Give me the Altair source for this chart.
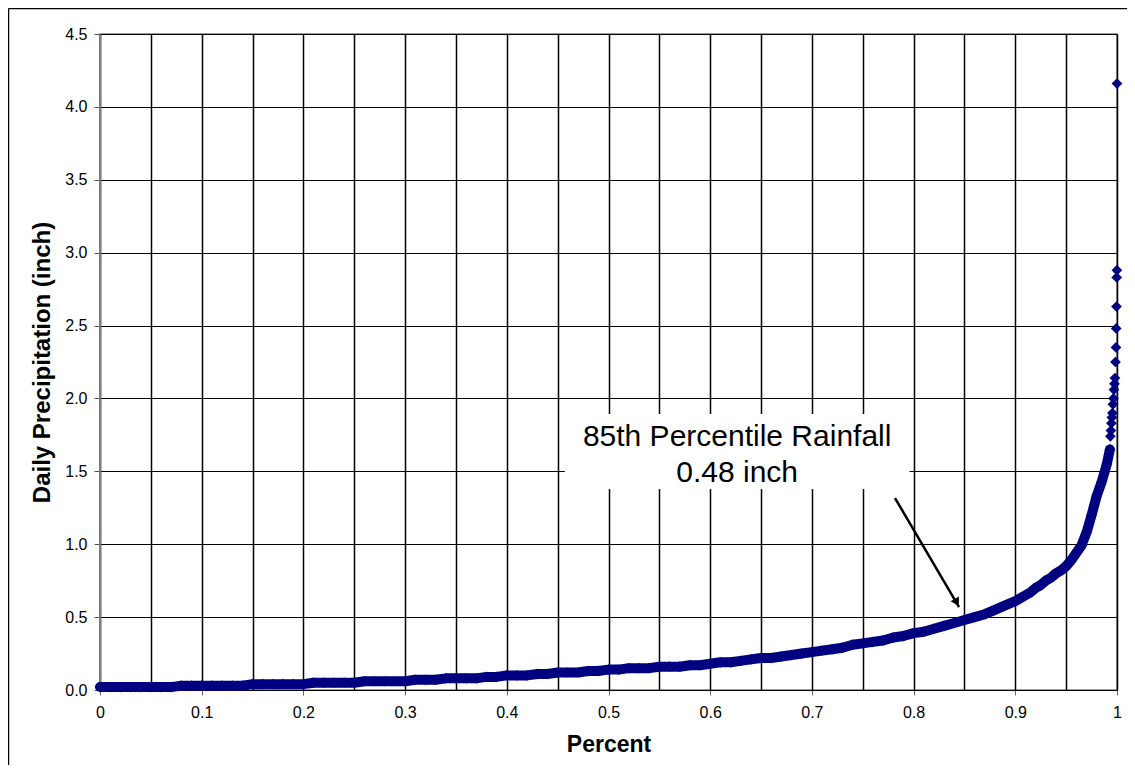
import altair as alt
import pandas as pd

# ---- data ----
pct = [0.00, 0.01, 0.02, 0.03, 0.04, 0.05, 0.06, 0.07, 0.08, 0.09,
       0.10, 0.11, 0.12, 0.13, 0.14, 0.15, 0.16, 0.17, 0.18, 0.19,
       0.20, 0.21, 0.22, 0.23, 0.24, 0.25, 0.26, 0.27, 0.28, 0.29,
       0.30, 0.31, 0.32, 0.33, 0.34, 0.35, 0.36, 0.37, 0.38, 0.39,
       0.40, 0.41, 0.42, 0.43, 0.44, 0.45, 0.46, 0.47, 0.48, 0.49,
       0.50, 0.51, 0.52, 0.53, 0.54, 0.55, 0.56, 0.57, 0.58, 0.59,
       0.60, 0.61, 0.62, 0.63, 0.64, 0.65, 0.66, 0.67, 0.68, 0.69,
       0.70, 0.71, 0.72, 0.73, 0.74, 0.75, 0.76, 0.77, 0.78, 0.79,
       0.80, 0.81, 0.82, 0.83, 0.84, 0.85, 0.86, 0.87, 0.88, 0.89,
       0.90, 0.905, 0.91, 0.915, 0.92, 0.925, 0.93, 0.935, 0.94, 0.945,
       0.95, 0.955, 0.96, 0.965, 0.97, 0.975, 0.98, 0.985, 0.99, 0.993]
precip = [0.02, 0.02, 0.02, 0.02, 0.02, 0.02, 0.02, 0.02, 0.03, 0.03,
          0.03, 0.03, 0.03, 0.03, 0.03, 0.04, 0.04, 0.04, 0.04, 0.04,
          0.04, 0.05, 0.05, 0.05, 0.05, 0.05, 0.06, 0.06, 0.06, 0.06,
          0.06, 0.07, 0.07, 0.07, 0.08, 0.08, 0.08, 0.08, 0.09, 0.09,
          0.10, 0.10, 0.10, 0.11, 0.11, 0.12, 0.12, 0.12, 0.13, 0.13,
          0.14, 0.14, 0.15, 0.15, 0.15, 0.16, 0.16, 0.16, 0.17, 0.17,
          0.18, 0.19, 0.19, 0.20, 0.21, 0.22, 0.22, 0.23, 0.24, 0.25,
          0.26, 0.27, 0.28, 0.29, 0.31, 0.32, 0.33, 0.34, 0.36, 0.37,
          0.39, 0.40, 0.42, 0.44, 0.46, 0.48, 0.50, 0.52, 0.55, 0.58,
          0.61, 0.63, 0.65, 0.67, 0.70, 0.72, 0.75, 0.77, 0.80, 0.82,
          0.85, 0.89, 0.94, 0.99, 1.08, 1.20, 1.33, 1.43, 1.55, 1.65]

tail_pct = [0.9935, 0.994, 0.9945, 0.995, 0.9955, 0.996, 0.9965, 0.997, 0.9975,
            0.998, 0.9985, 0.999, 0.9992, 0.9995, 0.9997, 0.9999, 1.0]
tail_precip = [1.74, 1.78, 1.83, 1.87, 1.90, 1.96, 2.00, 2.06, 2.10,
               2.14, 2.25, 2.35, 2.48, 2.63, 2.83, 2.88, 4.16]

x_grid_values = [0, 0.05, 0.1, 0.15, 0.2, 0.25, 0.3, 0.35, 0.4, 0.45, 0.5,
                 0.55, 0.6, 0.65, 0.7, 0.75, 0.8, 0.85, 0.9, 0.95, 1.0]
y_tick_values = [0, 0.5, 1.0, 1.5, 2.0, 2.5, 3.0, 3.5, 4.0, 4.5]

note_lines = ["85th Percentile Rainfall", "0.48 inch"]
note_x = [0.6265, 0.6265]
note_y = [1.674, 1.427]
box = {"x": 0.457, "x2": 0.796, "y": 1.379, "y2": 1.893}
arrow = {"x": 0.7817, "y": 1.317, "x2": 0.8447, "y2": 0.569}
arrow_head = {"x": 0.8425, "y": 0.600}

FONT = "Liberation Sans"
NAVY = "#000080"

curve_df = pd.DataFrame({"pct": pct, "precip": precip})
tail_df = pd.DataFrame({"pct": tail_pct, "precip": tail_precip})
note_df = pd.DataFrame({"pct": note_x, "precip": note_y, "label": note_lines})
box_df = pd.DataFrame([box])
arrow_df = pd.DataFrame([arrow])
head_df = pd.DataFrame([arrow_head])

x_scale = alt.Scale(domain=[0, 1], nice=False, zero=False)
y_scale = alt.Scale(domain=[0, 4.5], nice=False)

x_axis = alt.Axis(
    values=x_grid_values,
    labelExpr="round(datum.value*100) % 10 == 0 ? format(datum.value, '~g') : ''",
    labelFlush=False, labelOverlap=False,
    tickOpacity={"condition": {"test": "round(datum.value*100) % 10 != 0", "value": 0}, "value": 1},
    grid=True, gridColor="black", gridWidth=1.5,
    domainColor="black", domainWidth=1, tickColor="#666666", tickSize=5,
    labelFont=FONT, labelFontSize=16, labelColor="black", labelPadding=9,
    title="Percent", titleFont=FONT, titleFontSize=23, titleFontWeight="bold",
    titleColor="black", titlePadding=13,
)
y_axis = alt.Axis(
    values=y_tick_values, format=".1f",
    grid=True, gridColor="black", gridWidth=1,
    domainColor="#808080", domainWidth=1.5, tickColor="#555555", tickSize=6,
    labelFont=FONT, labelFontSize=16, labelColor="black", labelPadding=7,
    title="Daily Precipitation (inch)", titleFont=FONT, titleFontSize=24,
    titleFontWeight="bold", titleColor="black", titlePadding=10,
)

X = alt.X("pct:Q", scale=x_scale, axis=x_axis)
Y = alt.Y("precip:Q", scale=y_scale, axis=y_axis)

box_layer = alt.Chart(box_df).mark_rect(color="white").encode(
    x=alt.X("x:Q", scale=x_scale), x2="x2:Q",
    y=alt.Y("y:Q", scale=y_scale), y2="y2:Q")

text_layer = alt.Chart(note_df).mark_text(
    font=FONT, fontSize=30, color="black", align="center", baseline="alphabetic"
).encode(x=alt.X("pct:Q", scale=x_scale), y=alt.Y("precip:Q", scale=y_scale), text="label:N")

arrow_layer = alt.Chart(arrow_df).mark_rule(color="black", strokeWidth=2.5).encode(
    x=alt.X("x:Q", scale=x_scale), x2="x2:Q",
    y=alt.Y("y:Q", scale=y_scale), y2="y2:Q")

head_layer = alt.Chart(head_df).mark_point(
    shape="triangle-up", filled=True, color="black", opacity=1, size=90, angle=150
).encode(x=alt.X("x:Q", scale=x_scale), y=alt.Y("y:Q", scale=y_scale))

line_layer = alt.Chart(curve_df).mark_line(
    color=NAVY, strokeWidth=10, strokeCap="round", strokeJoin="round"
).encode(x=X, y=Y)

pts_layer = alt.Chart(curve_df).mark_point(
    shape="diamond", filled=True, color=NAVY, opacity=1, size=115
).encode(x=X, y=Y)

tail_layer = alt.Chart(tail_df).mark_point(
    shape="diamond", filled=True, color=NAVY, opacity=1, size=115
).encode(x=X, y=Y)

frame_src = alt.Data(values=[{"k": 1}])
frame_left = alt.Chart(frame_src).mark_rule(color="black", strokeWidth=1.5).encode(
    x=alt.value(-91.5), y=alt.value(-25.5), y2=alt.value(760))
frame_top = alt.Chart(frame_src).mark_rule(color="black", strokeWidth=1.5).encode(
    x=alt.value(-91.5), x2=alt.value(1040), y=alt.value(-25.5))

chart = alt.layer(
    pts_layer, line_layer, tail_layer, box_layer, text_layer, arrow_layer, head_layer,
    frame_left, frame_top
).properties(
    width=1017, height=656,
    autosize=alt.AutoSizeParams(type="none"),
    padding={"left": 92, "top": 26, "right": 10, "bottom": 75},
    background="white",
).configure_view(stroke="#808080", strokeWidth=1.5)

chart.save("out.html", embed_options={"renderer": "svg", "actions": False})
